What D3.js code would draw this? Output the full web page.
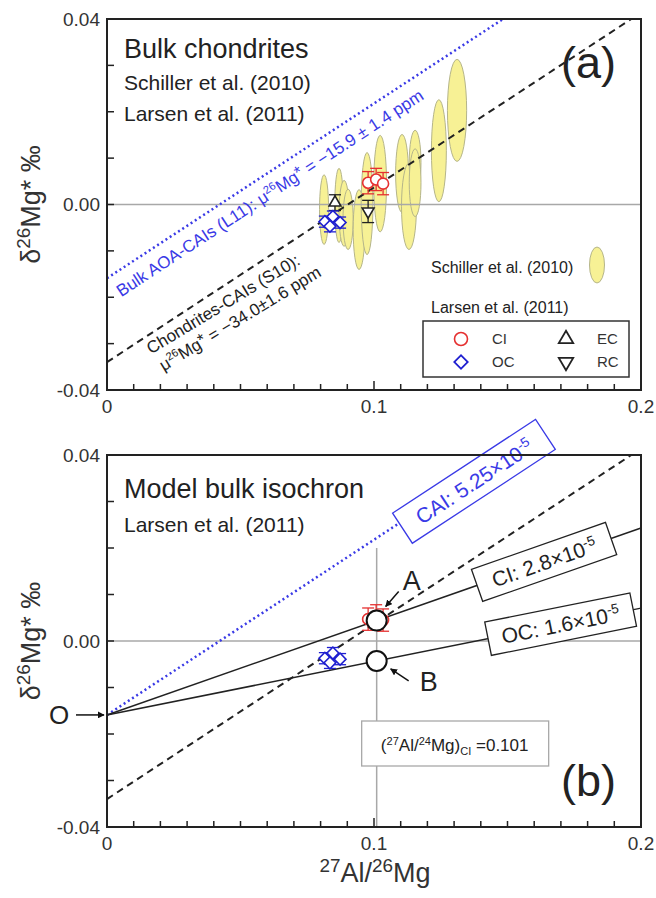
<!DOCTYPE html>
<html>
<head>
<meta charset="utf-8">
<script src="https://cdn.jsdelivr.net/npm/d3@7"></script>
<style>
  body { margin: 0; background: #fff; }
  text { font-family: "Liberation Sans", Arial, sans-serif; fill: #222; }
</style>
</head>
<body>
<div id="chart"></div>
<script>
// Schiller et al. (2010) bulk chondrites, drawn as error ellipses
var schillerX    = [0.0813, 0.0869, 0.0888, 0.0903, 0.0944, 0.0974, 0.1023, 0.1105, 0.1131, 0.1154, 0.1154, 0.1243, 0.1311];
var schillerY    = [-0.0011, -0.0002, -0.0019, -0.0032, -0.0054, 0.0002, 0.0045, 0.0067, -0.0004, 0.0091, 0.0047, 0.0116, 0.0203];
var schillerXErr = [0.0017, 0.0016, 0.0019, 0.0019, 0.0022, 0.0022, 0.0024, 0.0024, 0.0028, 0.0022, 0.0022, 0.0028, 0.0036];
var schillerYErr = [0.0075, 0.0080, 0.0071, 0.0065, 0.0086, 0.0110, 0.0104, 0.0084, 0.0093, 0.0069, 0.0073, 0.0110, 0.0110];

// Larsen et al. (2011)
var ciX = [0.0978, 0.1008, 0.1034];
var ciY = [0.0047, 0.0054, 0.0045];
var ciErr = [0.0024, 0.0024, 0.0024];
var ocX = [0.0816, 0.0846, 0.0873, 0.0835];
var ocY = [-0.0037, -0.0026, -0.0039, -0.0047];
var ocErr = [0.0012, 0.0012, 0.0012, 0.0012];
var ecX = [0.0854], ecY = [0.0004], ecErr = [0.0017];
var rcX = [0.0978], rcY = [-0.0015], rcErr = [0.0024];

// isochron parameters
var mg26_24 = 0.13932;
var caiRatio = 5.25e-5, ciRatio = 2.8e-5, ocRatio = 1.6e-5;
var aoaIntercept = -0.0159;   // Bulk AOA-CAIs (L11)
var s10Intercept = -0.0340;   // Chondrites-CAIs (S10)
var ciAlMg = 0.101;

// axis ticks
var xTickValues = [0, 0.1, 0.2], xTickLabels = ["0", "0.1", "0.2"];
var yTickValues = [-0.04, 0, 0.04], yTickLabels = ["-0.04", "0.00", "0.04"];

var blue = "#3a3ae6", red = "#e53030", gray = "#a8a8a8", yellow = "#f7f195";

function slope(r) { return r / mg26_24 * 1000; }

var svg = d3.select("#chart").append("svg")
  .attr("width", 656)
  .attr("height", 898);

svg.append("defs").append("marker")
  .attr("id", "arrow")
  .attr("viewBox", "0 0 10 10")
  .attr("refX", 9).attr("refY", 5)
  .attr("markerWidth", 7).attr("markerHeight", 7)
  .attr("markerUnits", "userSpaceOnUse")
  .attr("orient", "auto")
  .append("path").attr("d", "M0,0L10,5L0,10z").attr("fill", "#111");

var x = d3.scaleLinear().domain([0, 0.2]).range([107, 641]);
var yA = d3.scaleLinear().domain([-0.04, 0.04]).range([390, 19]);
var yB = d3.scaleLinear().domain([-0.04, 0.04]).range([827, 455]);

// a straight isochron through the scales, clipped at the top of the frame
function isoLine(g, y, b, s, x0, x1) {
  var xEnd = Math.min(x1, (0.04 - b) / s);
  return g.append("line")
    .attr("x1", x(x0)).attr("y1", y(b + s * x0))
    .attr("x2", x(xEnd)).attr("y2", y(b + s * xEnd));
}

function lineAngle(y, s) {
  return Math.atan2(y(s * 0.1) - y(0), x(0.1) - x(0)) * 180 / Math.PI;
}

// text with super/subscripts; fs = base font size in px, shifts kept in px
function superText(t, fs, parts, small) {
  small = small || 0.65;
  var shift = 0;
  parts.forEach(function (p) {
    var target = p[1] == "sup" ? -0.38 * fs : (p[1] == "sub" ? 0.22 * fs : (p[1] == "star" ? -0.12 * fs : 0));
    var ts = t.append("tspan").text(p[0]).attr("dy", target - shift);
    if (p[1] == "sup" || p[1] == "sub") ts.attr("font-size", (fs * small) + "px");
    shift = target;
  });
}

function drawFrame(y) {
  var g = svg.append("g");
  x.ticks(20).forEach(function (t) {
    var major = Math.abs(t * 10 - Math.round(t * 10)) < 1e-9;
    g.append("line")
      .attr("x1", x(t)).attr("x2", x(t))
      .attr("y1", y(-0.04)).attr("y2", y(-0.04) - (major ? 9 : 6))
      .attr("stroke", "#222").attr("stroke-width", 1.5);
  });
  y.ticks(8).forEach(function (t) {
    g.append("line")
      .attr("x1", x(0)).attr("x2", x(0) + 7)
      .attr("y1", y(t)).attr("y2", y(t))
      .attr("stroke", "#222").attr("stroke-width", 1.5);
  });
  g.append("rect")
    .attr("x", x(0)).attr("y", y(0.04))
    .attr("width", x(0.2) - x(0)).attr("height", y(-0.04) - y(0.04))
    .attr("fill", "none").attr("stroke", "#222").attr("stroke-width", 2);
  xTickValues.forEach(function (v, i) {
    g.append("text")
      .attr("x", x(v)).attr("y", y(-0.04) + 23)
      .attr("text-anchor", "middle")
      .style("font-size", "19px").style("fill", "#333")
      .text(xTickLabels[i]);
  });
  yTickValues.forEach(function (v, i) {
    g.append("text")
      .attr("x", x(0) - 7).attr("y", y(v)).attr("dy", "0.35em")
      .attr("text-anchor", "end")
      .style("font-size", "19px").style("fill", "#333")
      .text(yTickLabels[i]);
  });
  var yl = g.append("text")
    .attr("transform", "translate(40," + y(0) + ") rotate(-90)")
    .attr("text-anchor", "middle")
    .style("font-size", "27px").style("fill", "#333");
  superText(yl, 27, [["δ"], ["26", "sup"], ["Mg* ‰"]], 0.7);
}

function errorBars(g, y, xs, ys, errs, color) {
  xs.forEach(function (d, i) {
    var cx = x(d);
    g.append("line").attr("x1", cx).attr("x2", cx)
      .attr("y1", y(ys[i] - errs[i])).attr("y2", y(ys[i] + errs[i]))
      .attr("stroke", color).attr("stroke-width", 1.3);
    [-1, 1].forEach(function (k) {
      g.append("line").attr("x1", cx - 6).attr("x2", cx + 6)
        .attr("y1", y(ys[i] + k * errs[i])).attr("y2", y(ys[i] + k * errs[i]))
        .attr("stroke", color).attr("stroke-width", 1.3);
    });
  });
}

function symbols(g, y, xs, ys, type, rot, color, size) {
  xs.forEach(function (d, i) {
    g.append("path")
      .attr("d", d3.symbol().type(type).size(size)())
      .attr("transform", "translate(" + x(d) + "," + y(ys[i]) + ") rotate(" + rot + ")")
      .attr("fill", "#fff").attr("stroke", color).attr("stroke-width", 1.6);
  });
}

function circles(g, y, xs, ys, color) {
  xs.forEach(function (d, i) {
    g.append("circle").attr("cx", x(d)).attr("cy", y(ys[i])).attr("r", 5.5)
      .attr("fill", "#fff").attr("stroke", color).attr("stroke-width", 1.6);
  });
}

function labelBox(g, y, b, s, xv, perp, w, h, color, parts) {
  var ang = lineAngle(y, s);
  var bx = g.append("g")
    .attr("transform", "translate(" + x(xv) + "," + y(b + s * xv) + ") rotate(" + ang + ") translate(0," + perp + ")");
  bx.append("rect")
    .attr("x", -w / 2).attr("y", -h / 2).attr("width", w).attr("height", h)
    .attr("fill", "#fff").attr("stroke", color).attr("stroke-width", 1.3);
  var t = bx.append("text").attr("text-anchor", "middle").attr("y", 8)
    .style("font-size", "21px").style("fill", color);
  superText(t, 21, parts);
}

// ---------------- panel (a) ----------------
var ga = svg.append("g");
schillerX.forEach(function (d, i) {
  ga.append("ellipse")
    .attr("cx", x(d)).attr("cy", yA(schillerY[i]))
    .attr("rx", x(d + schillerXErr[i]) - x(d))
    .attr("ry", yA(schillerY[i] - schillerYErr[i]) - yA(schillerY[i]))
    .attr("fill", yellow).attr("stroke", "#b5b58a").attr("stroke-width", 1);
});
ga.append("line")
  .attr("x1", x(0)).attr("x2", x(0.2)).attr("y1", yA(0)).attr("y2", yA(0))
  .attr("stroke", gray).attr("stroke-width", 1.5);

isoLine(ga, yA, aoaIntercept, slope(caiRatio), 0, 0.2)
  .attr("stroke", blue).attr("stroke-width", 2.5).attr("stroke-dasharray", "2,3");
isoLine(ga, yA, s10Intercept, slope(caiRatio), 0, 0.2)
  .attr("stroke", "#222").attr("stroke-width", 2).attr("stroke-dasharray", "7,5");

errorBars(ga, yA, ecX, ecY, ecErr, "#222");
errorBars(ga, yA, rcX, rcY, rcErr, "#222");
errorBars(ga, yA, ocX, ocY, ocErr, "#1f1fd0");
errorBars(ga, yA, ciX, ciY, ciErr, red);
symbols(ga, yA, ecX, ecY, d3.symbolTriangle, 0, "#222", 60);
symbols(ga, yA, rcX, rcY, d3.symbolTriangle, 180, "#222", 60);
symbols(ga, yA, ocX, ocY, d3.symbolSquare, 45, "#1f1fd0", 70);
circles(ga, yA, ciX, ciY, red);

var angA = lineAngle(yA, slope(caiRatio));
ga.append("text")
  .attr("transform", "translate(" + (x(0.0012) + 11) + "," + (yA(aoaIntercept + slope(caiRatio) * 0.0012) + 21) + ") rotate(" + angA + ")")
  .style("font-size", "17px").style("fill", blue)
  .call(function (t) {
    superText(t, 17, [["Bulk AOA-CAIs (L11): μ"], ["26", "sup"], ["Mg"], ["*", "star"], [" = −15.9 ± 1.4 ppm"]]);
  });
var c1 = ga.append("g")
  .attr("transform", "translate(" + (x(0.0135) + 8) + "," + (yA(s10Intercept + slope(caiRatio) * 0.0135) + 16) + ") rotate(" + (angA + 2) + ")");
c1.append("text").style("font-size", "17px").text("Chondrites-CAIs (S10):");
c1.append("text").attr("x", 2).attr("y", 21).style("font-size", "17px")
  .call(function (t) {
    superText(t, 17, [["μ"], ["26", "sup"], ["Mg"], ["*", "star"], [" = −34.0±1.6 ppm"]]);
  });

ga.append("text").attr("x", 124).attr("y", 58).style("font-size", "27px").text("Bulk chondrites");
ga.append("text").attr("x", 124).attr("y", 90).style("font-size", "21px").text("Schiller et al. (2010)");
ga.append("text").attr("x", 124).attr("y", 121).style("font-size", "21px").text("Larsen et al. (2011)");
ga.append("text").attr("x", 616).attr("y", 78).attr("text-anchor", "end").style("font-size", "45px").text("(a)");

// legend
ga.append("text").attr("x", 431).attr("y", 273).style("font-size", "16px").text("Schiller et al. (2010)");
ga.append("ellipse").attr("cx", 597).attr("cy", 265).attr("rx", 7.5).attr("ry", 18)
  .attr("fill", yellow).attr("stroke", "#b5b58a");
ga.append("text").attr("x", 431).attr("y", 313).style("font-size", "16px").text("Larsen et al. (2011)");
ga.append("rect").attr("x", 423).attr("y", 321).attr("width", 206).attr("height", 56)
  .attr("fill", "#fff").attr("stroke", "#333").attr("stroke-width", 1.5);
var legendRows = [
  { lx: 461, ly: 339, label: "CI", kind: "circle", color: red },
  { lx: 461, ly: 362, label: "OC", kind: "diamond", color: "#1f1fd0" },
  { lx: 566, ly: 339, label: "EC", kind: "up", color: "#222" },
  { lx: 566, ly: 362, label: "RC", kind: "down", color: "#222" }
];
legendRows.forEach(function (r) {
  if (r.kind == "circle") {
    ga.append("circle").attr("cx", r.lx).attr("cy", r.ly).attr("r", 6.5)
      .attr("fill", "#fff").attr("stroke", r.color).attr("stroke-width", 1.6);
  } else {
    var type = r.kind == "diamond" ? d3.symbolSquare : d3.symbolTriangle;
    var rot = r.kind == "diamond" ? 45 : (r.kind == "down" ? 180 : 0);
    ga.append("path").attr("d", d3.symbol().type(type).size(90)())
      .attr("transform", "translate(" + r.lx + "," + r.ly + ") rotate(" + rot + ")")
      .attr("fill", "#fff").attr("stroke", r.color).attr("stroke-width", 1.8);
  }
  ga.append("text").attr("x", r.lx + 31).attr("y", r.ly).attr("dy", "0.35em")
    .style("font-size", "15px").style("fill", "#333").text(r.label);
});

drawFrame(yA);

// ---------------- panel (b) ----------------
var gb = svg.append("g");
gb.append("line")
  .attr("x1", x(0)).attr("x2", x(0.2)).attr("y1", yB(0)).attr("y2", yB(0))
  .attr("stroke", gray).attr("stroke-width", 1.5);
gb.append("line")
  .attr("x1", x(ciAlMg)).attr("x2", x(ciAlMg)).attr("y1", yB(0.02)).attr("y2", yB(-0.04))
  .attr("stroke", gray).attr("stroke-width", 1.5);

isoLine(gb, yB, s10Intercept, slope(caiRatio), 0, 0.2)
  .attr("stroke", "#222").attr("stroke-width", 2).attr("stroke-dasharray", "7,5");
isoLine(gb, yB, aoaIntercept, slope(caiRatio), 0, 0.11)
  .attr("stroke", blue).attr("stroke-width", 2.5).attr("stroke-dasharray", "2,3");
isoLine(gb, yB, aoaIntercept, slope(ciRatio), 0, 0.2)
  .attr("stroke", "#222").attr("stroke-width", 1.5);
isoLine(gb, yB, aoaIntercept, slope(ocRatio), 0, 0.2)
  .attr("stroke", "#222").attr("stroke-width", 1.5);

errorBars(gb, yB, ocX, ocY, ocErr, "#1f1fd0");
errorBars(gb, yB, ciX, ciY, ciErr, red);
symbols(gb, yB, ocX, ocY, d3.symbolSquare, 45, "#1f1fd0", 70);
circles(gb, yB, ciX, ciY, red);

var ax = x(ciAlMg), ay = yB(aoaIntercept + slope(ciRatio) * ciAlMg), by = yB(aoaIntercept + slope(ocRatio) * ciAlMg);
gb.append("circle").attr("cx", ax).attr("cy", ay).attr("r", 10)
  .attr("fill", "#fff").attr("stroke", "#111").attr("stroke-width", 2);
gb.append("circle").attr("cx", ax).attr("cy", by).attr("r", 10)
  .attr("fill", "#fff").attr("stroke", "#111").attr("stroke-width", 2);

labelBox(gb, yB, aoaIntercept, slope(caiRatio), 0.1362, 6, 171, 36, blue,
  [["CAI: 5.25×10"], ["-5", "sup"]]);
labelBox(gb, yB, aoaIntercept, slope(ciRatio), 0.1637, 0, 142, 34, "#222",
  [["CI: 2.8×10"], ["-5", "sup"]]);
labelBox(gb, yB, aoaIntercept, slope(ocRatio), 0.1699, 0, 148, 34, "#222",
  [["OC: 1.6×10"], ["-5", "sup"]]);

// arrows and point labels
var oy = yB(aoaIntercept);
gb.append("text").attr("x", 49).attr("y", oy).attr("dy", "0.36em").style("font-size", "26px").text("O");
gb.append("line").attr("x1", x(0) - 31).attr("x2", x(0) - 3).attr("y1", oy).attr("y2", oy)
  .attr("stroke", "#111").attr("stroke-width", 1.5).attr("marker-end", "url(#arrow)");
gb.append("text").attr("x", ax + 26).attr("y", ay - 31).style("font-size", "27px").text("A");
gb.append("line").attr("x1", ax + 22).attr("y1", ay - 29).attr("x2", ax + 9).attr("y2", ay - 14)
  .attr("stroke", "#111").attr("stroke-width", 1.5).attr("marker-end", "url(#arrow)");
gb.append("text").attr("x", ax + 43).attr("y", by + 30).style("font-size", "27px").text("B");
gb.append("line").attr("x1", ax + 32).attr("y1", by + 20).attr("x2", ax + 14).attr("y2", by + 8)
  .attr("stroke", "#111").attr("stroke-width", 1.5).attr("marker-end", "url(#arrow)");

gb.append("rect").attr("x", ax - 15).attr("y", 721).attr("width", 187).attr("height", 45)
  .attr("fill", "#fff").attr("stroke", gray).attr("stroke-width", 1.3);
gb.append("text").attr("x", ax + 78).attr("y", 751).attr("text-anchor", "middle")
  .style("font-size", "17px")
  .call(function (t) {
    superText(t, 17, [["("], ["27", "sup"], ["Al/"], ["24", "sup"], ["Mg)"], ["CI", "sub"], [" =0.101"]]);
  });

gb.append("text").attr("x", 124).attr("y", 498).style("font-size", "27px").text("Model bulk isochron");
gb.append("text").attr("x", 124).attr("y", 532).style("font-size", "21px").text("Larsen et al. (2011)");
gb.append("text").attr("x", 616).attr("y", 796).attr("text-anchor", "end").style("font-size", "45px").text("(b)");

drawFrame(yB);

// x axis title
var xt = svg.append("text").attr("x", 375).attr("y", 882).attr("text-anchor", "middle")
  .style("font-size", "27px").style("fill", "#333");
superText(xt, 27, [["27", "sup"], ["Al/"], ["26", "sup"], ["Mg"]], 0.7);
</script>
</body>
</html>
